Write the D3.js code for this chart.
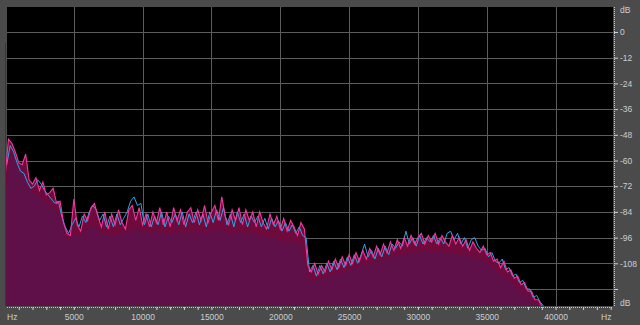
<!DOCTYPE html>
<html><head><meta charset="utf-8">
<script src="https://cdn.jsdelivr.net/npm/d3@7/dist/d3.min.js"></script>
<style>html,body{margin:0;padding:0;background:#4b4b4b;}svg{display:block;}</style>
</head><body><svg id="c" width="640" height="325"></svg>
<script>
// ---- data (dB per frequency bin) ----
const pinkStep = 250;   // Hz, bins start at 0
const pinkDb = [
-68,-50,-52,-56,-61,-62,-57,-69,-71,-68,-74,-70,-76,-75,-73,-80,-79,-89,-94,-95,
-78,-90,-93,-85,-88,-82,-80,-86,-91,-84,-92,-85,-90,-83,-89,-92,-83,-81,-88,-82,
-90,-85,-91,-84,-89,-82,-90,-84,-91,-82,-88,-83,-90,-84,-82,-89,-83,-88,-81,-89,
-84,-81,-88,-77,-86,-90,-83,-88,-82,-90,-83,-88,-84,-91,-84,-89,-92,-85,-90,-86,
-92,-87,-93,-88,-91,-95,-89,-92,-109,-112,-108,-113,-109,-112,-107,-111,-106,-110,-105,-109,
-104,-108,-103,-107,-102,-106,-101,-105,-100,-104,-99,-103,-98,-102,-97,-101,-96,-100,-95,-99,
-96,-94,-99,-95,-98,-94,-99,-95,-98,-100,-95,-99,-96,-100,-97,-102,-98,-101,-103,-100,
-104,-103,-107,-106,-110,-107,-112,-111,-115,-114,-118,-117,-121,-121,-125,-125,-128,-129];
const cyanStart = 125, cyanStep = 250;
const cyanDb = [
-62,-53,-56,-61,-65,-66,-70,-73,-72,-69,-71,-74,-76,-78,-80,-79,-86,-91,-94,-90,
-87,-91,-86,-89,-84,-81,-83,-88,-85,-91,-86,-91,-85,-90,-87,-84,-79,-77,-81,-80,
-90,-85,-91,-86,-90,-84,-91,-86,-89,-85,-90,-84,-91,-85,-89,-84,-90,-85,-91,-84,
-89,-83,-88,-82,-90,-85,-91,-84,-89,-85,-91,-86,-89,-86,-91,-87,-92,-87,-91,-88,
-93,-89,-93,-90,-94,-91,-95,-96,-112,-109,-114,-109,-113,-108,-112,-107,-111,-106,-110,-105,
-109,-104,-108,-104,-99,-105,-102,-106,-101,-105,-100,-104,-99,-101,-98,-100,-93,-99,-96,-100,
-95,-99,-96,-98,-95,-99,-96,-99,-94,-93,-97,-94,-99,-96,-101,-97,-96,-100,-102,-101,
-105,-103,-107,-108,-106,-111,-110,-114,-113,-117,-116,-120,-120,-124,-123,-126,-128];
const fillStep = 500;
const fillDb = [
-75,-56,-63,-68,-75,-77,-80,-82,-86,-97,
-95,-95,-92,-91,-94,-95,-95,-94,-93,-92,-93,-94,-93,-94,-94,-93,-94,-93,-93,-94,
-93,-92,-93,-94,-93,-94,-94,-95,-96,-96,-97,-98,-98,-99,
-115,-116,-115,-114,-113,-112,-111,-110,-109,-108,-107,-106,-105,-104,-104,-103,-103,-102,-103,-102,
-103,-103,-104,-104,-105,-106,-108,-110,-113,-115,-118,-121,-124,-127,-129];
const dbTicks = [0,-12,-24,-36,-48,-60,-72,-84,-96,-108,-120];
const dbLabels = ["0","-12","-24","-36","-48","-60","-72","-84","-96","-108",""];
const hzTicks = [5000,10000,15000,20000,25000,30000,35000,40000];

const pink = pinkDb.map((v,i)=>({f:i*pinkStep, v}));
const cyan = cyanDb.map((v,i)=>({f:cyanStart+i*cyanStep, v}));
const fill = fillDb.map((v,i)=>({f:i*fillStep, v}));

const svg = d3.select("#c");
const L=7, T=7, R=613, B=306;
const x = d3.scaleLinear().domain([0,44100]).range([5,612]);
const y = d3.scaleLinear().domain([0,-120]).range([32,289]);

svg.append("rect").attr("width",640).attr("height",325).attr("fill","#4b4b4b");
svg.append("line").attr("x1",5.5).attr("x2",5.5).attr("y1",43).attr("y2",B).attr("stroke","#383838");
svg.append("rect").attr("x",L).attr("y",T).attr("width",R-L).attr("height",B-T).attr("fill","#000");

svg.append("defs").append("clipPath").attr("id","pc").append("rect")
  .attr("x",L-1).attr("y",T).attr("width",R-L+1).attr("height",B-T);

// grid
const g = svg.append("g");
g.selectAll(".vg").data(hzTicks).join("line")
  .attr("x1",d=>Math.round(x(d))+0.5).attr("x2",d=>Math.round(x(d))+0.5)
  .attr("y1",T).attr("y2",B).attr("stroke","#5c5c5c");
g.selectAll(".hg").data(dbTicks).join("line")
  .attr("y1",d=>Math.round(y(d))+0.5).attr("y2",d=>Math.round(y(d))+0.5)
  .attr("x1",L).attr("x2",R).attr("stroke","#5c5c5c");

// spectrum
const plot = svg.append("g").attr("clip-path","url(#pc)");
const area = d3.area().x(d=>x(d.f)).y0(B+2).y1(d=>y(d.v));
const line = d3.line().x(d=>x(d.f)).y(d=>y(d.v));
plot.append("path").datum(pink).attr("d",area).attr("fill","#6e0a3c");
plot.append("path").datum(fill).attr("d",area).attr("fill","#601048");
plot.append("path").datum(cyan).attr("d",line).attr("fill","none").attr("stroke","#2aa6e6").attr("stroke-width",1);
plot.append("path").datum(pink).attr("d",line).attr("fill","none").attr("stroke","#f5379f").attr("stroke-width",1.1);

// right axis
const font = "'Liberation Sans', Arial, sans-serif";
const ax = svg.append("g").attr("transform",`translate(${R+1},0)`)
  .call(d3.axisRight(y).tickValues(dbTicks).tickSize(4).tickPadding(2).tickFormat((d,i)=>dbLabels[i]));
ax.select(".domain").attr("stroke","#c8c8c8").attr("stroke-dasharray","1,1").attr("d",`M0.5,${T}V${B}`);
ax.selectAll(".tick line").attr("stroke","#d0d0d0");
ax.selectAll(".tick text").attr("fill","#c9ced4").attr("font-family",font).attr("font-size","8.5px");

// bottom axis
const minor = d3.range(1000,44001,1000);
const bx = svg.append("g").attr("transform",`translate(0,${B+1})`)
  .call(d3.axisBottom(x).tickValues(minor).tickSize(3).tickPadding(4)
    .tickFormat(d=>hzTicks.includes(d)?String(d):""));
bx.select(".domain").attr("stroke","#c8c8c8").attr("stroke-dasharray","1,1").attr("d",`M${L},0.5H${R}`);
bx.selectAll(".tick line").attr("stroke","#d0d0d0");
bx.selectAll(".tick text").attr("fill","#c9ced4").attr("font-family",font).attr("font-size","8.5px");

// unit labels
const unit = (t,xx,yy,anchor)=>svg.append("text").text(t).attr("x",xx).attr("y",yy)
  .attr("fill","#c9ced4").attr("font-family",font).attr("font-size","8.5px").attr("text-anchor",anchor||"start");
unit("dB",620,13);
unit("dB",620,306);
unit("Hz",7,320);
unit("Hz",601,320);
</script></body></html>
